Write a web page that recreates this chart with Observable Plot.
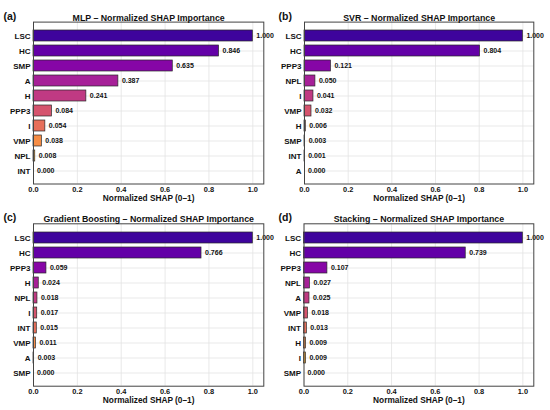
<!DOCTYPE html>
<html>
<head>
<meta charset="utf-8">
<script src="https://cdn.jsdelivr.net/npm/d3@7"></script>
<script src="https://cdn.jsdelivr.net/npm/@observablehq/plot@0.6"></script>
<style>
  html, body { margin: 0; padding: 0; background: #fff; }
  #wrap { position: relative; width: 550px; height: 410px; background: #fff; }
  #wrap svg { position: absolute; }
</style>
</head>
<body>
<div id="wrap"></div>
<script>
// ---- data ----
const mlpFeatures = ["LSC","HC","SMP","A","H","PPP3","I","VMP","NPL","INT"];
const mlpValues   = [1.000,0.846,0.635,0.387,0.241,0.084,0.054,0.038,0.008,0.000];

const svrFeatures = ["LSC","HC","PPP3","NPL","I","VMP","H","SMP","INT","A"];
const svrValues   = [1.000,0.804,0.121,0.050,0.041,0.032,0.006,0.003,0.001,0.000];

const gbFeatures  = ["LSC","HC","PPP3","H","NPL","I","INT","VMP","A","SMP"];
const gbValues    = [1.000,0.766,0.059,0.024,0.018,0.017,0.015,0.011,0.003,0.000];

const stkFeatures = ["LSC","HC","PPP3","NPL","A","VMP","INT","H","I","SMP"];
const stkValues   = [1.000,0.739,0.107,0.027,0.025,0.018,0.013,0.009,0.009,0.000];

const xTicks = [0, 0.2, 0.4, 0.6, 0.8, 1.0];
const xLabel = "Normalized SHAP (0–1)";

const panels = [
  {letter:"(a)", title:"MLP – Normalized SHAP Importance", feats:mlpFeatures, vals:mlpValues,
   left:0, top:0, ml:33, mr:11.7, mt:21.6, mb:21.5},
  {letter:"(b)", title:"SVR – Normalized SHAP Importance", feats:svrFeatures, vals:svrValues,
   left:275, top:0, ml:29, mr:16.7, mt:21.6, mb:21.5},
  {letter:"(c)", title:"Gradient Boosting – Normalized SHAP Importance", feats:gbFeatures, vals:gbValues,
   left:0, top:205, ml:33, mr:11.7, mt:18.3, mb:24.3},
  {letter:"(d)", title:"Stacking – Normalized SHAP Importance", feats:stkFeatures, vals:stkValues,
   left:275, top:205, ml:28.5, mr:16.7, mt:18.3, mb:24.3}
];

// plasma palette sampled like seaborn (n=10)
const palette = d3.range(10).map(i => d3.interpolatePlasma((i + 1) / 11));

const FONT = "'Liberation Sans', Arial, Helvetica, sans-serif";
const wrap = document.getElementById("wrap");

for (const p of panels) {
  const data = p.feats.map((f, i) => ({f, v: p.vals[i], rank: i}));
  const svg = Plot.plot({
    width: 275,
    height: 205,
    marginLeft: p.ml,
    marginRight: p.mr,
    marginTop: p.mt,
    marginBottom: p.mb,
    style: {fontFamily: FONT, fontWeight: "bold", color: "#111", background: "transparent", overflow: "visible"},
    x: {domain: [0, 1.05], ticks: xTicks, tickFormat: d3.format(".1f")},
    y: {domain: p.feats, paddingInner: 0.3, paddingOuter: 0.485},
    color: {type: "ordinal", domain: d3.range(10), range: palette},
    marks: [
      Plot.gridX(xTicks, {stroke: "#e3e3e3", strokeOpacity: 1, strokeWidth: 0.8}),
      Plot.gridY({stroke: "#e3e3e3", strokeOpacity: 1, strokeWidth: 0.8}),
      Plot.barX(data, {x: "v", y: "f", fill: "rank", stroke: "#2a2a2a", strokeWidth: 0.7}),
      Plot.text(data, {x: "v", y: "f", text: d => d.v.toFixed(3), dx: 3.5, textAnchor: "start",
        fontSize: 7, fontWeight: "bold", fill: "#111"}),
      Plot.frame({stroke: "#444", strokeWidth: 1}),
      Plot.axisY({tickSize: 0, tickPadding: 3, label: null, fontSize: 8, fontWeight: "bold"}),
      Plot.axisX(xTicks, {tickSize: 0, tickPadding: 2.4, label: null, fontSize: 7.4, fontWeight: "bold",
        tickFormat: d3.format(".1f")}),
      Plot.text([xLabel], {text: d => d, frameAnchor: "bottom", dy: 16.8, fontSize: 8.3, fontWeight: "bold", fill: "#111"}),
      Plot.text([p.title], {text: d => d, frameAnchor: "top", dy: -7.6, fontSize: 8.8, fontWeight: "bold", fill: "#111"}),
      Plot.text([p.letter], {text: d => d, frameAnchor: "top-left", dx: 3 - p.ml, dy: -9.8, textAnchor: "start",
        fontSize: 10.5, fontWeight: "bold", fill: "#111"})
    ]
  });
  svg.style.left = p.left + "px";
  svg.style.top = p.top + "px";
  wrap.appendChild(svg);
}
</script>
</body>
</html>
